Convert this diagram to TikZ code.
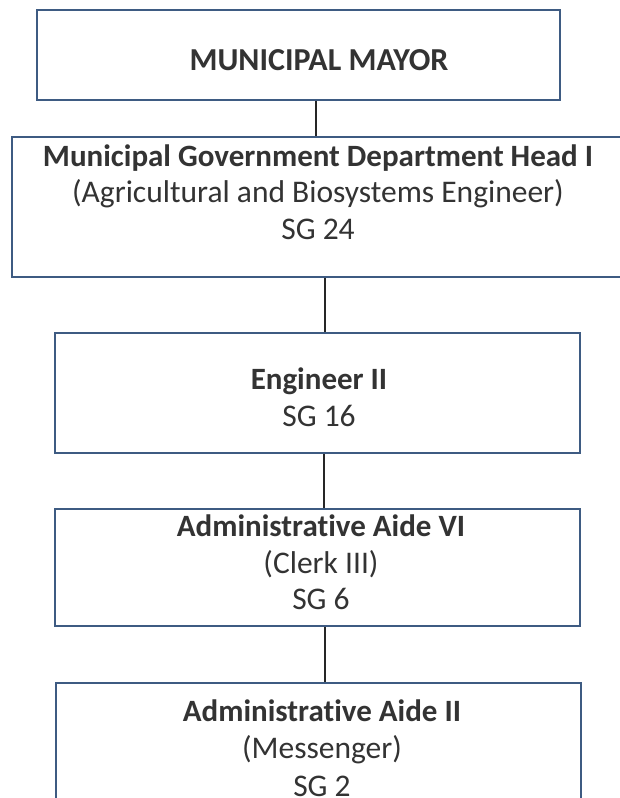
\documentclass[tikz,border=0pt]{standalone}
\usepackage{fontspec}
\setmainfont{Carlito}[Ligatures=NoCommon]
\definecolor{boxblue}{HTML}{3E5B82}
\definecolor{txt}{HTML}{333333}
\begin{document}
\begin{tikzpicture}[x=1pt,y=-1pt,
  box/.style={draw=boxblue,line width=2pt,fill=none,inner sep=0pt},
  ln/.style={anchor=base,inner sep=0pt,text=txt,font=\fontsize{31.5}{36}\selectfont},
  bl/.style={ln,font=\fontsize{31}{36}\selectfont\bfseries},
  conn/.style={draw=black!85,line width=1.4pt}]
\useasboundingbox (0,0) rectangle (620,798);
\fill[white] (0,0) rectangle (620,798);
% boxes
\node[box,minimum width=523pt,minimum height=90pt] (b1) at (298.5,55) {};
\node[box,minimum width=618pt,minimum height=140pt] (b2) at (321,207) {};
\node[box,minimum width=525pt,minimum height=120pt] (b3) at (317.5,393) {};
\node[box,minimum width=525pt,minimum height=117pt] (b4) at (317.5,567.5) {};
\node[box,minimum width=525pt,minimum height=125pt] (b5) at (318.5,745.5) {};
% texts
\node[bl,font=\fontsize{32}{36}\selectfont\bfseries] (t1) at (319,70) {MUNICIPAL MAYOR};
\node[bl] (t2a) at (318,166) {Municipal Government Department Head I};
\node[ln] (t2b) at (318,202) {(Agricultural and Biosystems Engineer)};
\node[ln] (t2c) at (318,239) {SG 24};
\node[bl] (t3a) at (319,389) {Engineer II};
\node[ln] (t3b) at (319,426) {SG 16};
\node[bl] (t4a) at (321,536) {Administrative Aide VI};
\node[ln] (t4b) at (321,573) {(Clerk III)};
\node[ln] (t4c) at (321,609) {SG 6};
\node[bl] (t5a) at (322,721) {Administrative Aide II};
\node[ln] (t5b) at (322,758) {(Messenger)};
\node[ln] (t5c) at (322,796) {SG 2};
% connectors
\coordinate (x1) at (316,0);
\coordinate (x2) at (325,0);
\coordinate (x3) at (324,0);
\draw[conn] (b1.south -| x1) -- (b2.north -| x1);
\draw[conn] (b2.south -| x2) -- (b3.north -| x2);
\draw[conn] (b3.south -| x3) -- (b4.north -| x3);
\draw[conn] (b4.south -| x2) -- (b5.north -| x2);
\end{tikzpicture}
\end{document}
